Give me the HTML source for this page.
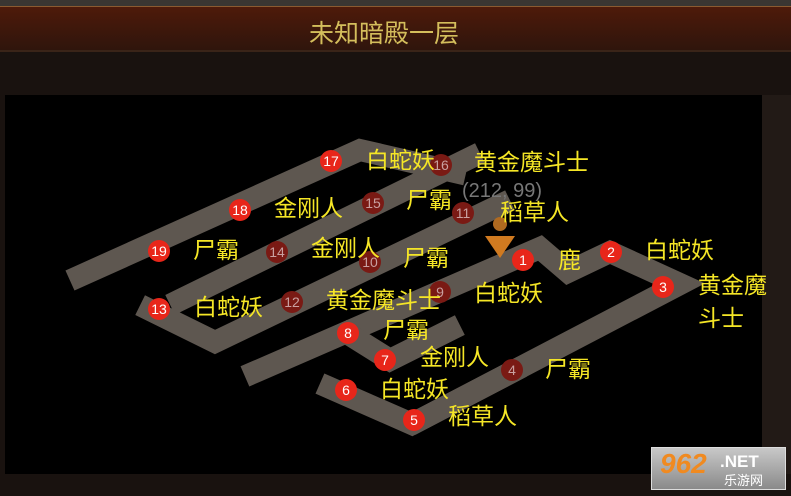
<!DOCTYPE html>
<html><head><meta charset="utf-8"><style>
body{margin:0;width:791px;height:496px;overflow:hidden;background:#19120f;position:relative;font-family:"Liberation Sans","Noto Sans CJK SC",sans-serif}
.top{position:absolute;left:0;top:0;width:791px;height:6px;background:#3a3632}
.hdr{position:absolute;left:0;top:6px;width:791px;height:46px;background:linear-gradient(#4e1a0a,#2f150c);border-top:1px solid #8a5a30;border-bottom:2px solid #3a2418;box-sizing:border-box}
.hdr span{position:absolute;left:0;width:768px;text-align:center;top:7px;font-size:25px;color:#d4be5c}
.map{position:absolute;left:5px;top:95px;width:757px;height:379px;background:#000}
.rs{position:absolute;left:762px;top:95px;width:29px;height:379px;background:#221a16}
.t{position:absolute;color:#f5e626;font-size:23px;white-space:nowrap;line-height:26px}
.c{position:absolute;width:22px;height:22px;border-radius:50%;background:#e8261a;color:#fff;font-size:14px;text-align:center;line-height:22px;margin:-11px 0 0 -11px}
.d{background:#7a1a14;color:#c9a0a0}
.wm{position:absolute;left:651px;top:447px;width:135px;height:43px;background:linear-gradient(#c8c8c8,#8a8a8a);border:1px solid #ddd;box-sizing:border-box}
</style></head><body>
<div class="top"></div>
<div class="hdr"><span>未知暗殿一层</span></div>
<div class="map"></div><div class="rs"></div>
<svg style="position:absolute;left:0;top:0" width="791" height="496">
<g fill="none" stroke="#5e5750" stroke-width="22" stroke-linejoin="miter" stroke-linecap="square">
<polyline points="80,276 360,150 455,172"/>
<polyline points="180,300 470,158"/>
<polyline points="150,310 215,342 500,205"/>
<polyline points="255,372 540,248 568,272 610,252 680,284 420,420"/>
<polyline points="330,388 412,424 512,372"/>
<polyline points="350,335 390,360 450,330"/>
</g>
<polygon points="485,236 515,236 500,258" fill="#d07a20"/>
<circle cx="500" cy="224" r="7" fill="#b06a20"/>
</svg>
<div class="c" style="left:331px;top:161px">17</div>
<div class="c d" style="left:441px;top:165px">16</div>
<div class="c" style="left:240px;top:210px">18</div>
<div class="c d" style="left:373px;top:203px">15</div>
<div class="c d" style="left:463px;top:213px">11</div>
<div class="c" style="left:159px;top:251px">19</div>
<div class="c d" style="left:277px;top:252px">14</div>
<div class="c d" style="left:370px;top:262px">10</div>
<div class="c" style="left:523px;top:260px">1</div>
<div class="c" style="left:611px;top:252px">2</div>
<div class="c" style="left:663px;top:287px">3</div>
<div class="c" style="left:159px;top:309px">13</div>
<div class="c d" style="left:292px;top:302px">12</div>
<div class="c d" style="left:440px;top:292px">9</div>
<div class="c" style="left:348px;top:333px">8</div>
<div class="c" style="left:385px;top:360px">7</div>
<div class="c d" style="left:512px;top:370px">4</div>
<div class="c" style="left:346px;top:390px">6</div>
<div class="c" style="left:414px;top:420px">5</div>
<div class="t" style="left:366px;top:147px">白蛇妖</div>
<div class="t" style="left:474px;top:149px">黄金魔斗士</div>
<div class="t" style="left:462px;top:178px;color:#777;font-size:20px">(212, 99)</div>
<div class="t" style="left:500px;top:199px">稻草人</div>
<div class="t" style="left:406px;top:187px">尸霸</div>
<div class="t" style="left:274px;top:195px">金刚人</div>
<div class="t" style="left:193px;top:237px">尸霸</div>
<div class="t" style="left:311px;top:235px">金刚人</div>
<div class="t" style="left:403px;top:245px">尸霸</div>
<div class="t" style="left:558px;top:247px">鹿</div>
<div class="t" style="left:645px;top:237px">白蛇妖</div>
<div class="t" style="left:698px;top:272px">黄金魔</div>
<div class="t" style="left:698px;top:305px">斗士</div>
<div class="t" style="left:474px;top:280px">白蛇妖</div>
<div class="t" style="left:326px;top:287px">黄金魔斗士</div>
<div class="t" style="left:194px;top:294px">白蛇妖</div>
<div class="t" style="left:383px;top:317px">尸霸</div>
<div class="t" style="left:420px;top:344px">金刚人</div>
<div class="t" style="left:545px;top:356px">尸霸</div>
<div class="t" style="left:380px;top:376px">白蛇妖</div>
<div class="t" style="left:448px;top:403px">稻草人</div>
<div class="wm"><span style="position:absolute;left:8px;top:0;font:italic bold 28px 'Liberation Sans',sans-serif;color:#f08a20">962</span><span style="position:absolute;left:68px;top:4px;font:bold 17px 'Liberation Sans',sans-serif;color:#fff">.NET</span><span style="position:absolute;left:72px;top:22px;font-size:13px;color:#fff;font-family:'Liberation Sans','Noto Sans CJK SC',sans-serif">乐游网</span></div>
</body></html>
